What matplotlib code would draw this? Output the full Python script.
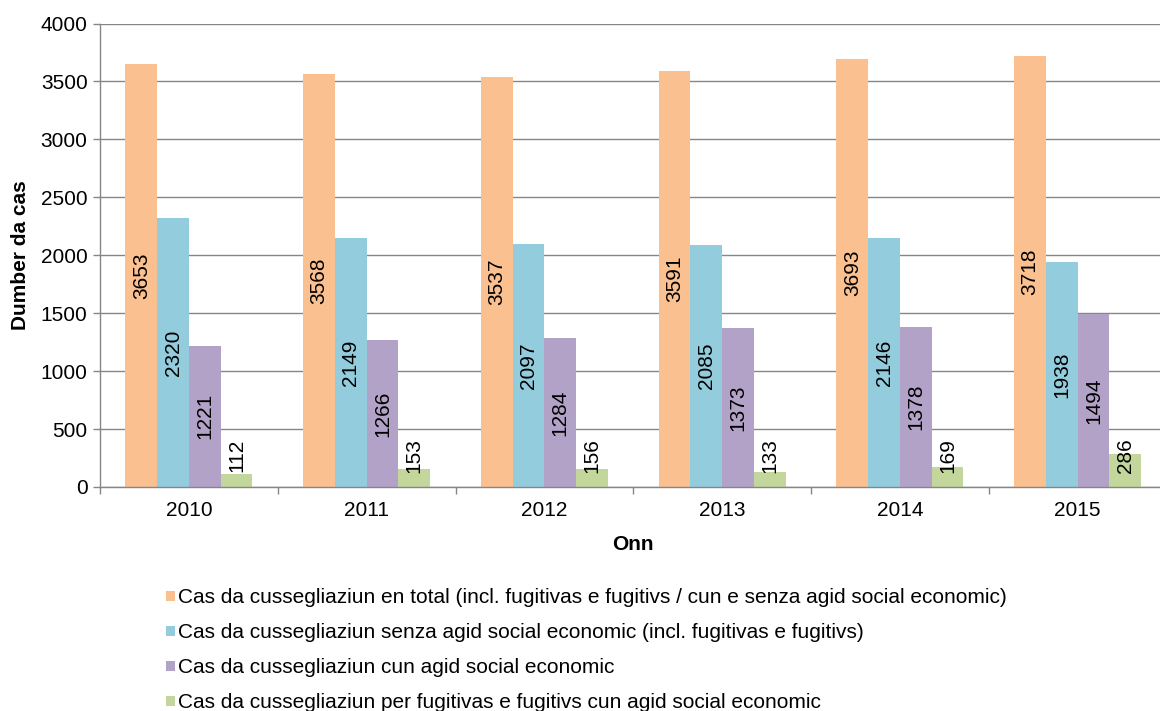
import numpy as np
import matplotlib
matplotlib.use("Agg")
import matplotlib.pyplot as plt

years = ["2010", "2011", "2012", "2013", "2014", "2015"]
total = [3653, 3568, 3537, 3591, 3693, 3718]
senza_agid = [2320, 2149, 2097, 2085, 2146, 1938]
cun_agid = [1221, 1266, 1284, 1373, 1378, 1494]
fugitivs_agid = [112, 153, 156, 133, 169, 286]

series_names = [
    "Cas da cussegliaziun en total (incl. fugitivas e fugitivs / cun e senza agid social economic)",
    "Cas da cussegliaziun senza agid social economic (incl. fugitivas e fugitivs)",
    "Cas da cussegliaziun cun agid social economic",
    "Cas da cussegliaziun per fugitivas e fugitivs cun agid social economic",
]
colors = ["#FAC090", "#93CDDD", "#B3A2C7", "#C3D69B"]

plt.rcParams['font.family'] = ['Liberation Sans', 'DejaVu Sans']

fig = plt.figure(figsize=(11.6, 7.11), dpi=100)
ax = fig.add_axes([100 / 1160, (711 - 487) / 711, 1066.5 / 1160, 463.5 / 711])

x = np.arange(len(years))
w = 0.1786
all_series = [total, senza_agid, cun_agid, fugitivs_agid]
for i, (vals, col, name) in enumerate(zip(all_series, colors, series_names)):
    pos = x + (i - 1.5) * w
    ax.bar(pos, vals, width=w, color=col, label=name, zorder=2)
    for px, v in zip(pos, vals):
        # centred in bar, pushed up when the bar is too short
        yc = max(v / 2, 270)
        ax.text(px, yc, str(v), rotation=90, ha='center', va='center',
                fontsize=15, color='black', zorder=3)

ax.set_xlim(-0.5, 5.5)
ax.set_ylim(0, 4000)
ax.set_yticks(range(0, 4001, 500))
ax.set_xticks(x)
ax.set_xticklabels(years)
ax.set_xticks(np.arange(-0.5, 6.0, 1.0), minor=True)
ax.tick_params(axis='x', which='major', length=0, labelsize=15, pad=10)
ax.tick_params(axis='x', which='minor', length=5, color='#868686', width=1)
ax.tick_params(axis='y', length=5, color='#868686', width=1, labelsize=15, pad=4)

ax.yaxis.grid(True, color='#868686', linewidth=1)
ax.set_axisbelow(True)
for s in ['top', 'right']:
    ax.spines[s].set_visible(False)
for s in ['left', 'bottom']:
    ax.spines[s].set_color('#868686')
    ax.spines[s].set_linewidth(1)
    ax.spines[s].set_zorder(4)

ax.set_ylabel("Dumber da cas", fontsize=15, fontweight='bold', labelpad=8)
ax.set_xlabel("Onn", fontsize=15, fontweight='bold', labelpad=11)

fig.legend(loc='upper left', bbox_to_anchor=(158 / 1160, 1 - 580 / 711),
           frameon=False, fontsize=15, handlelength=0.4, handleheight=0.4,
           handletextpad=0.15, labelspacing=0.77, borderaxespad=0)

fig.savefig("out.png", dpi=100)
